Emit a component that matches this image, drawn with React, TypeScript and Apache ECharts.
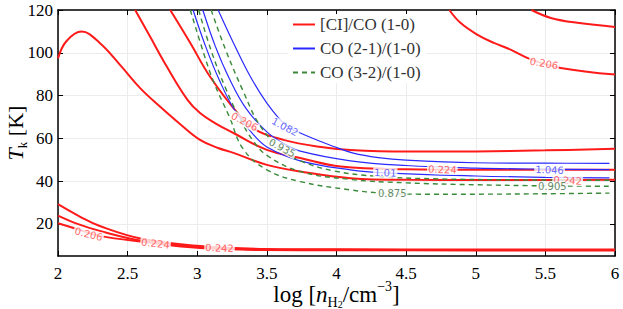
import React, { useEffect, useRef } from 'react';
import * as echarts from 'echarts';

// ---- data: contour lines, [log n, Tk] ----
const xTicks = [2, 2.5, 3, 3.5, 4, 4.5, 5, 5.5, 6];
const yTicks = [20, 40, 60, 80, 100, 120];

// [CI]/CO (1-0)
const ci242Hump = [[2, 97.4], [2.06, 105.4], [2.17, 109.9], [2.3, 104.6], [2.45, 94], [2.59, 83.5], [2.73, 75], [2.88, 66.5], [3.02, 59.3], [3.15, 55.5], [3.26, 53.2], [3.5, 47.6], [3.74, 44.5], [4.1, 41.4], [4.53, 40.6], [5, 40.5], [5.5, 40.5], [6, 40.6]];
const ci224Mid = [[2.554, 120], [2.66, 107.7], [2.78, 93.7], [2.93, 78], [3.02, 71.8], [3.13, 67], [3.26, 62.5], [3.5, 54.6], [3.74, 50.8], [4.03, 46.8], [4.5, 45.5], [5, 45.3], [5.5, 45.3], [6, 45.3]];
const ci206Mid = [[2.806, 120], [2.95, 104.6], [3.09, 89], [3.29, 71.8], [3.42, 64], [3.62, 59.3], [3.86, 56.2], [4.1, 54.6], [4.5, 53.8], [5, 53.9], [5.5, 54.4], [6, 55.1]];
const ci206Top = [[4.81, 120], [4.89, 114], [5.01, 108.5], [5.13, 104.6], [5.25, 101.5], [5.4, 96.8], [5.61, 92.9], [6, 89.8]];
const ci188Top = [[5.4, 120], [5.54, 116.3], [5.73, 114], [6, 112.1]];
const ci206Low = [[2, 20.3], [2.14, 17.5], [2.3, 14.4], [2.61, 11.6], [3.02, 8.7], [3.5, 7.8], [4, 7.7], [5, 7.6], [6, 7.6]];
const ci224Low = [[2, 23.9], [2.14, 20], [2.3, 16.7], [2.61, 12], [3.02, 9.2], [3.5, 8.0], [4, 7.9], [5, 7.8], [6, 7.8]];
const ci242Low = [[2, 29.2], [2.16, 23.3], [2.3, 19], [2.61, 12.9], [3.02, 9.7], [3.5, 8.3], [4, 8.1], [5, 8.0], [6, 8.0]];

// CO (2-1)/(1-0)
const co21_1082 = [[3.15, 120], [3.26, 104.6], [3.38, 89], [3.5, 76.5], [3.63, 66.5], [3.74, 62.5], [3.98, 56.2], [4.12, 53.1], [4.3, 51], [4.5, 49.8], [5, 48.6], [5.5, 48.4], [5.96, 48.3]];
const co21_1046 = [[3.04, 120], [3.13, 103], [3.23, 88], [3.35, 74], [3.5, 63], [3.62, 57.5], [3.74, 54], [4.1, 49.5], [4.5, 47.3], [5, 46.1], [5.5, 45.6], [5.96, 45.4]];
const co21_1010 = [[2.97, 120], [3.06, 103], [3.16, 87], [3.27, 73], [3.4, 62], [3.5, 56], [3.74, 49.5], [4.1, 45.3], [4.35, 43.9], [5, 42.4], [5.5, 41.8], [5.96, 41.5]];

// CO (3-2)/(1-0)
const co32_0935 = [[3.1, 120], [3.2, 102], [3.33, 82], [3.45, 66], [3.6, 55], [3.74, 49.5], [3.98, 44.8], [4.3, 42.2], [4.7, 41.1], [5.3, 40.6], [5.96, 40.4]];
const co32_0905 = [[3.01, 120], [3.1, 101], [3.2, 84], [3.3, 70], [3.4, 59], [3.5, 52], [3.74, 44.5], [4.1, 40.8], [4.5, 39.2], [5, 38.3], [5.5, 37.8], [5.96, 37.6]];
const co32_0875 = [[2.95, 120], [3.05, 99], [3.12, 86], [3.23, 70.2], [3.33, 55], [3.5, 45.3], [3.74, 39.8], [4.1, 35.9], [4.33, 34.4], [4.6, 33.9], [5, 33.9], [5.5, 34.1], [5.96, 34.4]];

// contour labels: [text, log n, Tk]
const ciLabels = [['0.206', 3.34, 67.8], ['0.206', 5.49, 95], ['0.224', 4.76, 45.4], ['0.242', 5.66, 40.3], ['0.206', 2.22, 15.2], ['0.224', 2.7, 10.8], ['0.242', 3.16, 8.7]];
const co21Labels = [['1.082', 3.63, 65.4], ['1.046', 5.53, 45.2], ['1.01', 4.35, 43.9]];
const co32Labels = [['0.935', 3.61, 55.5], ['0.905', 5.55, 37.4], ['0.875', 4.4, 34.3]];
const ciRot = [-28, -10, -2, -3, -14, -6, -2];
const co21Rot = [-28, -2, -2];
const co32Rot = [-28, 0, 0];

const NAME_CI = '[CI]/CO (1-0)';
const NAME_21 = 'CO (2-1)/(1-0)';
const NAME_32 = 'CO (3-2)/(1-0)';

const RED = '#ff1a1a';
const BLUE = '#2a2aff';
const GREEN = '#3a8a3a';

export default function App() {
  const ref = useRef<HTMLDivElement>(null);
  useEffect(() => {
    if (!ref.current) return;
    const chart = echarts.init(ref.current, undefined, { renderer: 'svg' });
    const serif = 'Liberation Serif';

    const lineSeries = (name: string, data: number[][], color: string, width: number, type: any) => ({
      type: 'line',
      name,
      data,
      showSymbol: false,
      symbol: 'none',
      smooth: 0.4,
      lineStyle: { color, width, type },
      itemStyle: { color },
      z: 2,
    });

    const labelSeries = (labels: any[], rots: number[], color: string) => ({
      type: 'scatter',
      name: 'lbl',
      symbolSize: 1,
      itemStyle: { color: 'rgba(0,0,0,0)' },
      z: 5,
      silent: true,
      data: labels.map((l, i) => ({
        value: [l[1], l[2]],
        label: {
          show: true,
          position: 'inside',
          formatter: l[0],
          rotate: rots[i],
          color,
          fontSize: 10,
          fontFamily: 'DejaVu Sans',
          backgroundColor: '#fff',
          padding: [0, 1],
        },
      })),
    });

    const series: any[] = [
      ...[ci242Hump, ci224Mid, ci206Mid, ci206Top, ci188Top, ci206Low, ci224Low, ci242Low].map((d) => lineSeries(NAME_CI, d, RED, 2, 'solid')),
      ...[co21_1082, co21_1046, co21_1010].map((d) => lineSeries(NAME_21, d, BLUE, 1.2, 'solid')),
      ...[co32_0935, co32_0905, co32_0875].map((d) => lineSeries(NAME_32, d, GREEN, 1.4, [5, 4])),
      labelSeries(ciLabels, ciRot, '#ff4040'),
      labelSeries(co21Labels, co21Rot, '#4040ff'),
      labelSeries(co32Labels, co32Rot, '#3a6a3a'),
    ];

    const axisCommon = {
      axisLine: { show: true, onZero: false, lineStyle: { color: '#000', width: 1.5 } },
      axisTick: { show: true, inside: true, length: 5, lineStyle: { color: '#000' } },
    };

    chart.setOption({
      animation: false,
      backgroundColor: '#fff',
      grid: { left: 58, right: 8, top: 10, bottom: 53, containLabel: false, outerBoundsMode: 'none' },
      legend: {
        data: [NAME_CI, NAME_21, NAME_32],
        orient: 'vertical',
        left: 288,
        top: 14,
        itemWidth: 22,
        itemHeight: 12,
        itemGap: 7,
        itemStyle: { opacity: 0 },
        backgroundColor: '#fff',
        padding: [2, 6, 2, 4],
        textStyle: { fontFamily: serif, fontSize: 17, color: '#333' },
      },
      xAxis: [
        {
          type: 'value',
          min: 2,
          max: 6,
          interval: 0.5,
          ...axisCommon,
          axisLabel: { color: '#000', fontFamily: serif, fontSize: 17, margin: 9 },
          splitLine: { show: true, lineStyle: { color: '#ececec', width: 1 } },
          name: '{n|log [}{i|n}{s|H}{ss|2}{n|/cm}{sup|−3}{n|]}',
          nameLocation: 'middle',
          nameMoveOverlap: false,
          nameGap: 23,
          nameTextStyle: {
            rich: {
              n: { fontFamily: serif, fontSize: 23, color: '#000', verticalAlign: 'middle', lineHeight: 30 },
              i: { fontFamily: serif, fontSize: 23, fontStyle: 'italic', color: '#000', verticalAlign: 'middle', lineHeight: 30 },
              s: { fontFamily: serif, fontSize: 14, color: '#000', verticalAlign: 'bottom', lineHeight: 30 },
              ss: { fontFamily: serif, fontSize: 10, color: '#000', verticalAlign: 'bottom', lineHeight: 28 },
              sup: { fontFamily: serif, fontSize: 14, color: '#000', verticalAlign: 'top', lineHeight: 30 },
            },
          },
        },
        {
          type: 'value',
          position: 'top',
          min: 2,
          max: 6,
          interval: 0.5,
          ...axisCommon,
          axisLabel: { show: false },
          splitLine: { show: false },
        },
      ],
      yAxis: [
        {
          type: 'value',
          min: 5,
          max: 120,
          ...axisCommon,
          axisTick: { show: true, inside: true, length: 5, lineStyle: { color: '#000' }, customValues: yTicks },
          axisLabel: { color: '#000', fontFamily: serif, fontSize: 17, margin: 5, customValues: yTicks },
          splitLine: { show: true, lineStyle: { color: '#ececec', width: 1 } },
          name: '{i|T}{s|k}{n| [K]}',
          nameLocation: 'middle',
          nameRotate: 90,
          nameMoveOverlap: false,
          nameGap: 29,
          nameTextStyle: {
            rich: {
              n: { fontFamily: serif, fontSize: 22, color: '#000', verticalAlign: 'middle', lineHeight: 28 },
              i: { fontFamily: serif, fontSize: 22, fontStyle: 'italic', color: '#000', verticalAlign: 'middle', lineHeight: 28 },
              s: { fontFamily: serif, fontSize: 13, color: '#000', verticalAlign: 'bottom', lineHeight: 28 },
            },
          },
        },
        {
          type: 'value',
          position: 'right',
          min: 5,
          max: 120,
          ...axisCommon,
          axisTick: { show: true, inside: true, length: 5, lineStyle: { color: '#000' }, customValues: yTicks },
          axisLabel: { show: false, customValues: yTicks },
          splitLine: { show: false },
        },
      ],
      series,
    });
    return () => chart.dispose();
  }, []);
  return <div ref={ref} style={{ width: 623, height: 309, position: 'absolute', left: 0, top: 0 }} />;
}
